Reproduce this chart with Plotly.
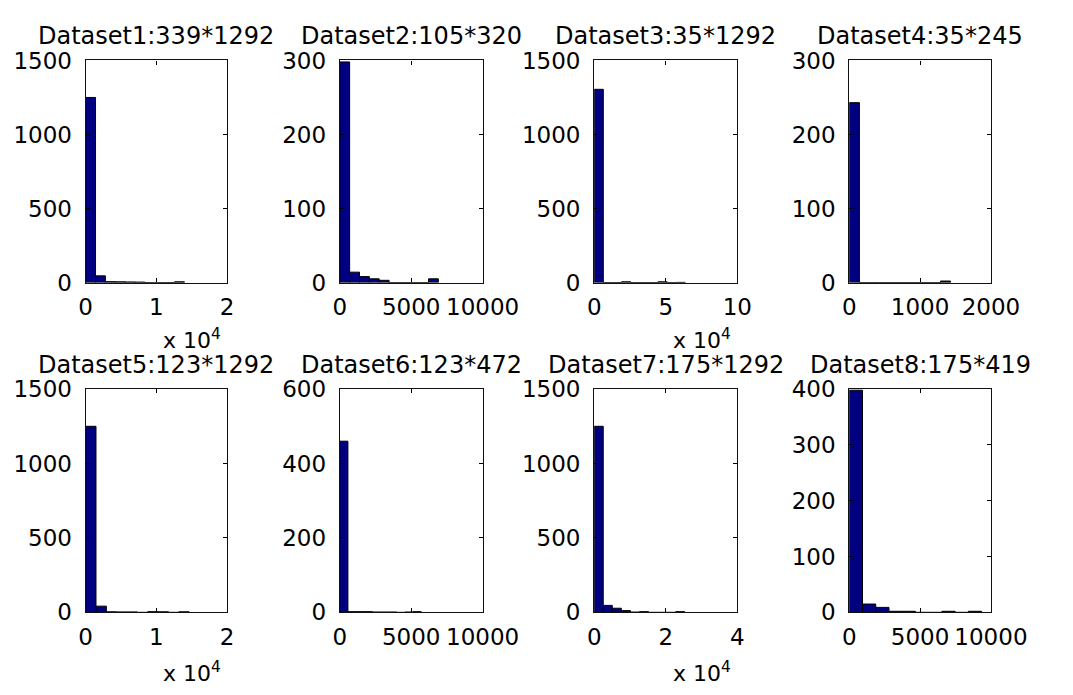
import plotly.graph_objects as go

# ---------------- data ----------------
titles = ["Dataset1:339*1292", "Dataset2:105*320", "Dataset3:35*1292", "Dataset4:35*245",
          "Dataset5:123*1292", "Dataset6:123*472", "Dataset7:175*1292", "Dataset8:175*419"]

bin_width_1 = 1397
counts_1 = [1250, 45, 6, 5, 4, 3, 0, 0, 0, 5]
bin_width_2 = 690
counts_2 = [298, 14, 8, 5, 3, 0, 0, 0, 0, 5]
bin_width_3 = 6375
counts_3 = [1305, 0, 0, 5, 0, 0, 0, 5, 0, 1]
bin_width_4 = 143
counts_4 = [243, 0, 0, 0, 0, 0, 0, 0, 0, 2]
bin_width_5 = 1464
counts_5 = [1250, 42, 4, 3, 3, 0, 5, 4, 0, 4]
bin_width_6 = 570
counts_6 = [460, 2, 2, 2, 1, 1, 1, 0, 1, 2]
bin_width_7 = 2530
counts_7 = [1250, 47, 28, 12, 2, 5, 0, 0, 0, 5]
bin_width_8 = 934
counts_8 = [398, 15, 9, 2, 2, 0, 0, 2, 0, 2]

x_ticks_1 = [0, 10000, 20000]; x_labels_1 = ["0", "1", "2"]
x_ticks_2 = [0, 5000, 10000]; x_labels_2 = ["0", "5000", "10000"]
x_ticks_3 = [0, 50000, 100000]; x_labels_3 = ["0", "5", "10"]
x_ticks_4 = [0, 1000, 2000]; x_labels_4 = ["0", "1000", "2000"]
x_ticks_5 = [0, 10000, 20000]; x_labels_5 = ["0", "1", "2"]
x_ticks_6 = [0, 5000, 10000]; x_labels_6 = ["0", "5000", "10000"]
x_ticks_7 = [0, 20000, 40000]; x_labels_7 = ["0", "2", "4"]
x_ticks_8 = [0, 5000, 10000]; x_labels_8 = ["0", "5000", "10000"]

y_ticks_1 = [0, 500, 1000, 1500]
y_ticks_2 = [0, 100, 200, 300]
y_ticks_3 = [0, 500, 1000, 1500]
y_ticks_4 = [0, 100, 200, 300]
y_ticks_5 = [0, 500, 1000, 1500]
y_ticks_6 = [0, 200, 400, 600]
y_ticks_7 = [0, 500, 1000, 1500]
y_ticks_8 = [0, 100, 200, 300, 400]

exponent_panels = [1, 3, 5, 7]
exponent_text = "x 10<sup>4</sup>"

# ---------------- layout helpers ----------------
W, H = 1073, 695
col_px = [(82, 229.5), (347, 496), (612.3, 761.5), (878.3, 1026)]
row_px = [(49.3, 280), (390.7, 622.7)]
exp_offset = [59, 62]

widths = [bin_width_1, bin_width_2, bin_width_3, bin_width_4,
          bin_width_5, bin_width_6, bin_width_7, bin_width_8]
counts = [counts_1, counts_2, counts_3, counts_4, counts_5, counts_6, counts_7, counts_8]
xt = [x_ticks_1, x_ticks_2, x_ticks_3, x_ticks_4, x_ticks_5, x_ticks_6, x_ticks_7, x_ticks_8]
xl = [x_labels_1, x_labels_2, x_labels_3, x_labels_4, x_labels_5, x_labels_6, x_labels_7, x_labels_8]
yt = [y_ticks_1, y_ticks_2, y_ticks_3, y_ticks_4, y_ticks_5, y_ticks_6, y_ticks_7, y_ticks_8]

FONT = "DejaVu Sans"
TXT = "#000000"
fig = go.Figure()
layout = dict(width=W, height=H, autosize=False,
              margin=dict(l=0, r=0, t=0, b=0),
              paper_bgcolor="white", plot_bgcolor="white",
              showlegend=False, font=dict(family=FONT, size=23, color=TXT))
annotations = []

for i in range(8):
    r, c = divmod(i, 4)
    n = i + 1
    sfx = "" if n == 1 else str(n)
    w = widths[i]
    centers = [(k + 0.5) * w for k in range(len(counts[i]))]
    fig.add_trace(go.Bar(x=centers, y=counts[i], width=w,
                         marker=dict(color="#000080", line=dict(color="black", width=1)),
                         xaxis="x" + sfx, yaxis="y" + sfx, hoverinfo="skip"))
    x0, x1 = col_px[c]
    y0, y1 = row_px[r]
    common = dict(showgrid=False, zeroline=False, showline=True, linecolor="#111111",
                  linewidth=1.2, mirror="ticks", ticks="inside", ticklen=4,
                  tickcolor="black", tickwidth=1, fixedrange=True,
                  tickfont=dict(family=FONT, size=23, color=TXT))
    layout["xaxis" + sfx] = dict(common, domain=[x0 / W, x1 / W],
                                 anchor="y" + sfx, range=[xt[i][0], xt[i][-1]],
                                 tickmode="array", tickvals=xt[i], ticktext=xl[i],
                                 ticklabelstandoff=4)
    layout["yaxis" + sfx] = dict(common, domain=[1 - y1 / H, 1 - y0 / H],
                                 anchor="x" + sfx, range=[yt[i][0], yt[i][-1]],
                                 tickmode="array", tickvals=yt[i],
                                 ticktext=[str(v) for v in yt[i]],
                                 ticklabelstandoff=8)
    annotations.append(dict(text=titles[i], xref="paper", yref="paper",
                            x=(x0 + x1) / 2 / W, y=1 - (y0 - 25.5) / H,
                            xanchor="center", yanchor="middle", showarrow=False,
                            font=dict(family=FONT, size=24, color=TXT)))
    if n in exponent_panels:
        annotations.append(dict(text=exponent_text, xref="paper", yref="paper",
                                x=(x1 - 4) / W, y=1 - (y1 + exp_offset[r]) / H,
                                xanchor="right", yanchor="middle", showarrow=False,
                                font=dict(family=FONT, size=22, color=TXT)))

layout["annotations"] = annotations
fig.update_layout(**layout)
fig.write_html("out.html")
